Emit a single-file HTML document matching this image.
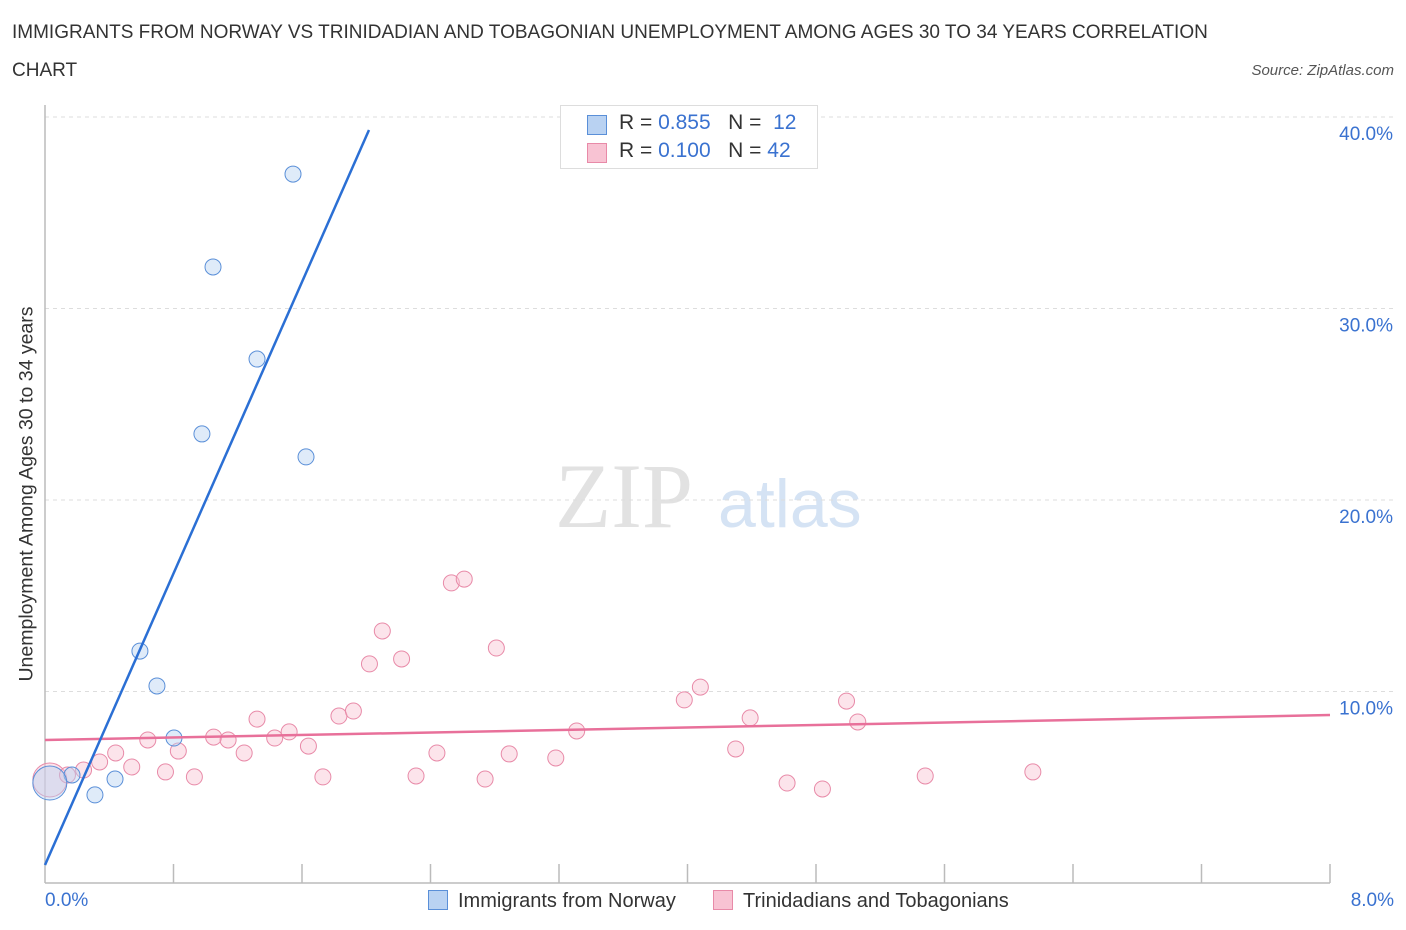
<!DOCTYPE html>
<html><head><meta charset="utf-8"><style>
body{margin:0;background:#fff;font-family:"Liberation Sans",sans-serif;}
#wrap{position:relative;width:1406px;height:930px;overflow:hidden}
.t{position:absolute;white-space:nowrap}
</style></head><body><div id="wrap">
<div class="t" style="left:12px;top:14px;font-size:19px;color:#333;line-height:38px;width:1215px;white-space:normal">IMMIGRANTS FROM NORWAY VS TRINIDADIAN AND TOBAGONIAN UNEMPLOYMENT AMONG AGES 30 TO 34 YEARS CORRELATION CHART</div>
<div class="t" style="right:12px;top:62px;font-size:15px;color:#555;font-style:italic">Source: ZipAtlas.com</div>
<svg id="svg" width="1406" height="930" style="position:absolute;left:0;top:0"></svg>
</div>
<script>
const yTicks=[10,20,30,40];
const yTickLabels=["10.0%","20.0%","30.0%","40.0%"];
const blueX=[1.544,1.046,1.320,0.977,1.625,0.591,0.697,0.803,0.436,0.311,0.168,0.03];
const blueY=[37.02,32.17,27.36,23.45,22.25,12.11,10.29,7.57,5.43,4.60,5.64,5.22];
const pinkX=[0.03,0.14,0.24,0.34,0.44,0.54,0.64,0.75,0.83,0.93,1.05,1.14,1.24,1.32,1.43,1.52,1.64,1.73,1.83,1.92,2.02,2.10,2.22,2.31,2.44,2.53,2.61,2.74,2.81,2.89,3.18,3.31,3.98,4.08,4.30,4.39,4.62,4.84,4.99,5.06,5.48,6.15];
const pinkY=[5.38,5.64,5.90,6.32,6.79,6.06,7.47,5.80,6.89,5.54,7.62,7.47,6.79,8.56,7.57,7.89,7.15,5.54,8.72,8.98,11.44,13.16,11.70,5.59,6.79,15.67,15.87,5.43,12.27,6.74,6.53,7.94,9.56,10.23,7.00,8.62,5.22,4.91,9.50,8.41,5.59,5.80];
const blueLine=[[0,0.94],[2.017,39.32]];
const pinkLine=[[0,7.47],[8,8.77]];
const X=v=>45+v/0.8*128.5, Y=v=>883-v*19.15;
const svg=document.getElementById('svg');const NS='http://www.w3.org/2000/svg';
function mk(tag,at,parent){const e=document.createElementNS(NS,tag);for(const k in at)e.setAttribute(k,at[k]);(parent||svg).appendChild(e);return e;}
let e;
e=mk('text',{x:555,y:527,'font-size':92,fill:'#e2e2e2','font-family':'Liberation Serif,serif'});e.textContent='ZIP';


e=mk('text',{x:718,y:527,'font-size':68,fill:'#d5e3f4','font-family':'Liberation Sans,sans-serif'});e.textContent='atlas';


yTicks.forEach((t,i)=>{
 e=mk('line',{x1:45,x2:1395,y1:Y(t),y2:Y(t),stroke:'#ddd','stroke-dasharray':'4,4'});
 
 
 e=mk('text',{x:1393,y:Y(t)+23,'text-anchor':'end','font-size':19,fill:'#3a72d0'});e.textContent=yTickLabels[i];
 
 
});
mk('line',{x1:45,x2:45,y1:105,y2:883,stroke:'#bbb','stroke-width':1.5});
mk('line',{x1:45,x2:1330,y1:883,y2:883,stroke:'#bbb','stroke-width':1.5});
for(let i=1;i<=10;i++){e=mk('line',{x1:X(i*0.8),x2:X(i*0.8),y1:864,y2:883,stroke:'#bbb','stroke-width':1.5});
 
 }
function dot(x,y,r,fill,stroke,name){e=mk('circle',{cx:X(x),cy:Y(y),r:r,fill:fill,stroke:stroke,'stroke-width':1,'fill-opacity':0.45});
 
 }
pinkX.forEach((x,i)=>dot(x,pinkY[i],i==0?17:8,'#f8c3d3','#e88aa8','pink-point'));
blueX.forEach((x,i)=>dot(x,blueY[i],i==blueX.length-1?17:8,'#b9d2f2','#5a8fd8','blue-point'));
e=mk('line',{x1:X(pinkLine[0][0]),y1:Y(pinkLine[0][1]),x2:X(pinkLine[1][0]),y2:Y(pinkLine[1][1]),stroke:'#e8709a','stroke-width':2.5});


e=mk('line',{x1:X(blueLine[0][0]),y1:Y(blueLine[0][1]),x2:X(blueLine[1][0]),y2:Y(blueLine[1][1]),stroke:'#2b6fd4','stroke-width':2.5});


</script>
<div class="t" style="left:45px;top:890px;font-size:19px;color:#3a72d0">0.0%</div>
<div class="t" style="right:12px;top:890px;font-size:19px;color:#3a72d0">8.0%</div>
<div class="t" style="left:27px;top:494px;font-size:19.5px;color:#333;transform:translate(-50%,-50%) rotate(-90deg)">Unemployment Among Ages 30 to 34 years</div>
<div style="position:absolute;left:560px;top:105px;width:256px;height:62px;border:1px solid #ddd;background:#fff;font-size:21px;color:#333">
 <div style="position:absolute;left:26px;top:9px;width:18px;height:18px;background:#b9d2f2;border:1px solid #5a8fd8"></div>
 <div class="t" style="left:58px;top:5px">R = <span style="color:#3a72d0">0.855</span>&nbsp;&nbsp; N = &nbsp;<span style="color:#3a72d0">12</span></div>
 <div style="position:absolute;left:26px;top:37px;width:18px;height:18px;background:#f8c3d3;border:1px solid #e88aa8"></div>
 <div class="t" style="left:58px;top:33px">R = <span style="color:#3a72d0">0.100</span>&nbsp;&nbsp; N = <span style="color:#3a72d0">42</span></div>
</div>
<div style="position:absolute;left:428px;top:890px;font-size:20px;color:#333">
 <span style="display:inline-block;width:18px;height:18px;background:#b9d2f2;border:1px solid #5a8fd8;vertical-align:-3px;margin-right:10px"></span>Immigrants from Norway</div>
<div style="position:absolute;left:713px;top:890px;font-size:20px;color:#333">
 <span style="display:inline-block;width:18px;height:18px;background:#f8c3d3;border:1px solid #e88aa8;vertical-align:-3px;margin-right:10px"></span>Trinidadians and Tobagonians</div>
</body></html>
